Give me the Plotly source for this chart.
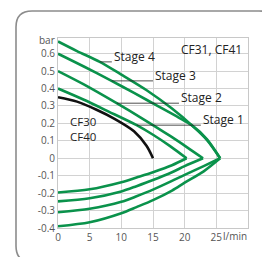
import plotly.graph_objects as go

# ---------------- data ----------------
stage4_top_q = [0, 3, 6.6, 10, 14, 18, 21.1, 23.5, 25.6]
stage4_top_p = [0.67, 0.615, 0.553, 0.48, 0.39, 0.285, 0.19, 0.105, 0.0]
stage3_top_q = [0, 4, 8.46, 12, 16, 19, 21.1, 23.5, 25.6]
stage3_top_p = [0.6, 0.528, 0.444, 0.375, 0.295, 0.235, 0.19, 0.11, 0.0]
stage2_top_q = [0, 4, 9.26, 13, 17.7, 20.5, 22.9]
stage2_top_p = [0.5, 0.425, 0.316, 0.235, 0.128, 0.06, 0.0]
stage1_top_q = [0, 4, 8, 12.42, 15, 17.7, 20.3]
stage1_top_p = [0.4, 0.337, 0.268, 0.19, 0.135, 0.07, 0.0]

stage4_bot_q = [0, 5, 10, 12.4, 15, 18, 20, 23, 25.6]
stage4_bot_p = [-0.39, -0.367, -0.315, -0.28, -0.24, -0.185, -0.14, -0.075, 0.0]
stage3_bot_q = [0, 5, 10, 12.4, 15, 18, 20, 23, 25.6]
stage3_bot_p = [-0.31, -0.29, -0.25, -0.218, -0.18, -0.13, -0.095, -0.045, 0.0]
stage2_bot_q = [0, 5, 10, 12.4, 15, 18, 20, 22.9]
stage2_bot_p = [-0.247, -0.229, -0.19, -0.16, -0.125, -0.08, -0.045, 0.0]
stage1_bot_q = [0, 5, 10, 12.4, 15, 18, 20.3]
stage1_bot_p = [-0.196, -0.178, -0.137, -0.11, -0.08, -0.04, 0.0]

cf30_q = [0, 3, 6, 9, 12, 14, 15]
cf30_p = [0.35, 0.325, 0.28, 0.225, 0.155, 0.07, 0.0]

x_ticks = [0, 5, 10, 15, 20, 25]
x_tick_text = ["0", "5", "10", "15", "20", "25"]
y_ticks = [0.6, 0.5, 0.4, 0.3, 0.2, 0.1, 0, -0.1, -0.2, -0.3, -0.4]
y_tick_text = ["0.6", "0.5", "0.4", "0.3", "0.2", "0.1", "0", "-0.1", "-0.2", "-0.3", "-0.4"]

# leader lines: (label, curve-point q, p, label start q)
leaders = [
    ("Stage 4", 6.6, 0.553, 8.5),
    ("Stage 3", 8.46, 0.444, 15.0),
    ("Stage 2", 9.26, 0.316, 19.1),
    ("Stage 1", 12.42, 0.19, 22.55),
]

# ---------------- figure ----------------
GREEN = "#0a924b"
W, H = 262, 257
ML, MR, MT, MB = 58, 14, 38, 29

fig = go.Figure()
branches = [
    (stage4_top_q, stage4_top_p), (stage3_top_q, stage3_top_p),
    (stage2_top_q, stage2_top_p), (stage1_top_q, stage1_top_p),
    (stage4_bot_q, stage4_bot_p), (stage3_bot_q, stage3_bot_p),
    (stage2_bot_q, stage2_bot_p), (stage1_bot_q, stage1_bot_p),
]
for q, p in branches:
    fig.add_trace(go.Scatter(x=q, y=p, mode="lines",
                             line=dict(color=GREEN, width=2.6, shape="spline", smoothing=0.8),
                             hoverinfo="skip", showlegend=False))
fig.add_trace(go.Scatter(x=cf30_q, y=cf30_p, mode="lines",
                         line=dict(color="#111111", width=2.6, shape="spline", smoothing=0.8),
                         hoverinfo="skip", showlegend=False))

ann_font = dict(family="Open Sans, Noto Sans, sans-serif", size=12, color="#222222")
for label, q0, p0, q1 in leaders:
    fig.add_shape(type="line", x0=q0, y0=p0, x1=q1, y1=p0, xref="x", yref="y",
                  line=dict(color="#222222", width=0.8))
    fig.add_annotation(x=q1, y=p0, xref="x", yref="y", text=label, showarrow=False,
                       xanchor="left", yanchor="bottom", yshift=-5, font=ann_font)

fig.add_annotation(x=29.3, y=0.626, xref="x", yref="y", text="CF31, CF41", showarrow=False,
                   xanchor="right", yanchor="middle", font=ann_font)
cf_font = dict(family="Open Sans, Noto Sans, sans-serif", size=11.5, color="#222222")
fig.add_annotation(x=1.5, y=0.168, xref="x", yref="y", text="CF30<br>CF40", showarrow=False,
                   xanchor="left", yanchor="middle", align="left", font=cf_font)

tick_font = dict(family="Open Sans, Noto Sans, sans-serif", size=10, color="#555555")
fig.add_annotation(x=0, y=0.68, xref="paper", yref="y", text="bar", showarrow=False,
                   xanchor="right", yanchor="middle", xshift=-1, font=tick_font)
fig.add_annotation(x=25, y=0, xref="x", yref="paper", text="l/min", showarrow=False,
                   xanchor="left", yanchor="top", xshift=5, yshift=1, font=tick_font)

# rounded frame (pixel geometry converted to paper coordinates)
pw, ph = W - ML - MR, H - MT - MB
def px(x):
    return (x - ML) / pw
def py(y):
    return (H - MB - y) / ph
x0, x1, y0, y1, r = 16, 275, 11, 262, 16
path = (f"M {px(x0)},{py(y0 + r)} "
        f"Q {px(x0)},{py(y0)} {px(x0 + r)},{py(y0)} "
        f"L {px(x1 - r)},{py(y0)} "
        f"Q {px(x1)},{py(y0)} {px(x1)},{py(y0 + r)} "
        f"L {px(x1)},{py(y1 - r)} "
        f"Q {px(x1)},{py(y1)} {px(x1 - r)},{py(y1)} "
        f"L {px(x0 + r)},{py(y1)} "
        f"Q {px(x0)},{py(y1)} {px(x0)},{py(y1 - r)} Z")
fig.add_shape(type="path", path=path, xref="paper", yref="paper",
              line=dict(color="#8c8c8c", width=1.6), layer="below")

fig.update_xaxes(range=[0, 30], tickvals=x_ticks, ticktext=x_tick_text,
                 showgrid=True, gridcolor="#d2d2d2", gridwidth=1,
                 showline=True, linecolor="#c8c8c8", linewidth=1, mirror=True,
                 zeroline=False, ticks="", tickfont=tick_font, fixedrange=True)
fig.update_yaxes(range=[-0.4, 0.69], tickvals=y_ticks, ticktext=y_tick_text,
                 showgrid=True, gridcolor="#d2d2d2", gridwidth=1,
                 showline=True, linecolor="#c8c8c8", linewidth=1, mirror=True,
                 zeroline=False, ticks="", tickfont=tick_font, fixedrange=True)
fig.update_layout(width=W, height=H, margin=dict(l=ML, r=MR, t=MT, b=MB, pad=0),
                  paper_bgcolor="white", plot_bgcolor="white", showlegend=False)

fig.write_html("out.html", config={"displayModeBar": False},
               post_script="document.body.style.margin='0';document.body.style.padding='0';")
